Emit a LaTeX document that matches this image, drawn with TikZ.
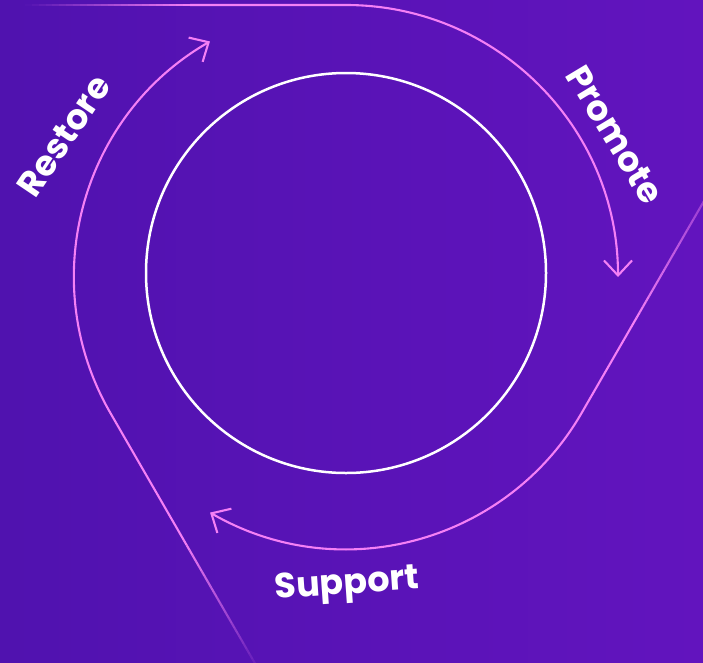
\documentclass[tikz,border=0pt]{standalone}
\usepackage{fontspec}
\setmainfont{Poppins}
\usetikzlibrary{arrows.meta,calc}
\definecolor{bgL}{RGB}{80,18,175}
\definecolor{bgR}{RGB}{98,20,190}
\definecolor{pinkline}{RGB}{245,128,245}
\newcommand{\fadeseg}[4]{%
  \foreach \i [evaluate=\i as \fa using \i/24,
               evaluate=\i as \fb using (\i+1)/24,
               evaluate=\i as \fo using #3+(#4-#3)*(\i+0.5)/24] in {0,...,23}
    {\draw[pinkpath, opacity=\fo] ($(#1)!\fa!(#2)$) -- ($(#1)!\fb!(#2)$);}}
\begin{document}
\begin{tikzpicture}[x=1pt,y=1pt,
  pinkpath/.style={draw=pinkline, line width=2.1pt},
  arrowtip/.style={-{Straight Barb[length=15pt,width=28pt]}},
  cyclelabel/.style={text=white, font=\fontsize{35}{35}\selectfont\bfseries, inner sep=0pt}]
\shade[left color=bgL, right color=bgR] (0,0) rectangle (703,-662);
\useasboundingbox (0,0) rectangle (703,-662);

% inner circle
\node[circle, draw=white, line width=2.5pt, minimum size=400pt, inner sep=0pt] (core) at (346,-273) {};

% top path (Promote)
\coordinate (topStart) at (25,-5);
\coordinate (topFull) at (190,-5);
\coordinate (topTan) at (346,-5);
\fadeseg{topStart}{topFull}{0}{1}
\draw[pinkpath, arrowtip] (topFull) -- (topTan) arc[start angle=90, end angle=0, radius=272];

% right path (Support)
\coordinate (rEdge) at (711.6,-187.8);
\coordinate (rFull) at (636.6,-317.7);
\coordinate (rTan) at (581.6,-413);
\fadeseg{rEdge}{rFull}{0.3}{1}
\draw[pinkpath, arrowtip] (rFull) -- (rTan) arc[start angle=-30, end angle=-120, radius=272];

% left path (Restore)
\coordinate (lEdge) at (255.4,-664.1);
\coordinate (lFull) at (183.7,-540);
\coordinate (lTan) at (110.4,-413);
\fadeseg{lEdge}{lFull}{0.1}{1}
\draw[pinkpath, arrowtip] (lFull) -- (lTan) arc[start angle=210, end angle=120, radius=272];

% labels
\node[cyclelabel, rotate=56] (restore) at (64,-136) {Restore};
\node[cyclelabel, rotate=-59] (promote) at (615,-135) {Promote};
\node[cyclelabel, rotate=4] (support) at (347,-586) {Support};
\end{tikzpicture}
\end{document}
